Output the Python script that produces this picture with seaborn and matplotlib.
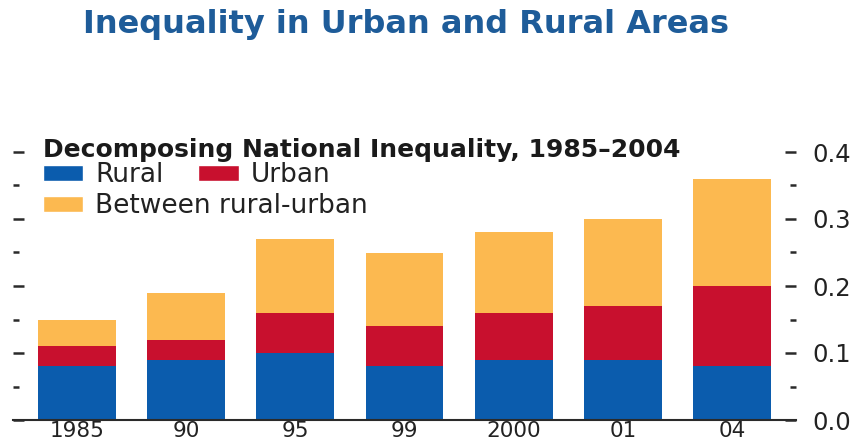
import numpy as np
import pandas as pd
import matplotlib
matplotlib.use("Agg")
import matplotlib.pyplot as plt
import seaborn as sns
from matplotlib.patches import Patch
from matplotlib.ticker import MultipleLocator

# ---- data ----
years = ["1985", "90", "95", "99", "2000", "01", "04"]
rural = [0.08, 0.09, 0.10, 0.08, 0.09, 0.09, 0.08]
urban = [0.03, 0.03, 0.06, 0.06, 0.07, 0.08, 0.12]
between = [0.04, 0.07, 0.11, 0.11, 0.12, 0.13, 0.16]
series_names = ["Rural", "Urban", "Between rural-urban"]
y_ticks = [0.0, 0.1, 0.2, 0.3, 0.4]

title = "Inequality in Urban and Rural Areas"
subtitle = "Decomposing National Inequality, 1985\u20132004"

# ---- style ----
C_RURAL = "#0B5CAD"
C_URBAN = "#C8102E"
C_BETWEEN = "#FCB950"
C_TITLE = "#1E5C99"
C_TEXT = "#222222"

sns.set_theme(style="white")
plt.rcParams["font.family"] = ["DejaVu Sans"]

W, H = 855, 447
fig = plt.figure(figsize=(W / 100, H / 100), dpi=100)
fig.patch.set_facecolor("white")

ax_left, ax_right, ax_top, ax_bottom = 13, 796, 152, 420
ax = fig.add_axes([ax_left / W, 1 - ax_bottom / H,
                   (ax_right - ax_left) / W, (ax_bottom - ax_top) / H])

df = pd.DataFrame({"year": years, "rural": rural, "urban": urban, "between": between})
df["lvl1"] = df["rural"]
df["lvl2"] = df["rural"] + df["urban"]
df["lvl3"] = df["rural"] + df["urban"] + df["between"]

bw = 0.714
for col, color in [("lvl3", C_BETWEEN), ("lvl2", C_URBAN), ("lvl1", C_RURAL)]:
    sns.barplot(data=df, x="year", y=col, order=years, color=color,
                width=bw, saturation=1, linewidth=0, ax=ax)

ax.set_xlim(-0.586, 6.586)
ax.set_ylim(0, 0.4)
ax.set_xlabel("")
ax.set_ylabel("")

for s in ["top", "left", "right"]:
    ax.spines[s].set_visible(False)
ax.spines["bottom"].set_color("#2a2a2a")
ax.spines["bottom"].set_linewidth(1.5)

ax.yaxis.set_major_locator(MultipleLocator(0.1))
ax.yaxis.set_minor_locator(MultipleLocator(0.05))
ax.set_yticks(y_ticks)
ax.set_yticklabels([f"{v:.1f}" for v in y_ticks])
ax.tick_params(axis="y", which="both", left=True, right=True,
               labelleft=False, labelright=True, direction="in",
               colors="#2a2a2a", labelcolor=C_TEXT)
ax.tick_params(axis="y", which="major", length=8, width=1.8, pad=11.5,
               labelsize=17.5)
ax.tick_params(axis="y", which="minor", length=4.3, width=1.8)
ax.tick_params(axis="x", which="both", length=0, pad=0.5, labelsize=15.5,
               labelcolor=C_TEXT)
ax.grid(False)

# ---- texts ----
fig.text(406 / W, 1 - 25 / H, title, ha="center", va="center",
         fontsize=23, fontweight="bold", color=C_TITLE)
fig.text(43 / W, 1 - 150 / H, subtitle, ha="left", va="center",
         fontsize=18, fontweight="bold", color="#1a1a1a")

# ---- legends ----
leg_kw = dict(frameon=False, fontsize=19, handlelength=1.52, handleheight=0.57,
              handletextpad=0.45, borderpad=0, borderaxespad=0,
              loc="center left", bbox_transform=fig.transFigure,
              labelcolor=C_TEXT)
h1 = [Patch(facecolor=C_RURAL, label=series_names[0]),
      Patch(facecolor=C_URBAN, label=series_names[1])]
leg1 = fig.legend(handles=h1, ncol=2, columnspacing=1.33,
                  bbox_to_anchor=(43 / W, 1 - 175 / H), **leg_kw)
h2 = [Patch(facecolor=C_BETWEEN, label=series_names[2])]
leg2 = fig.legend(handles=h2, ncol=1,
                  bbox_to_anchor=(43 / W, 1 - 206 / H), **leg_kw)

fig.savefig("out.png", dpi=100, facecolor="white")
